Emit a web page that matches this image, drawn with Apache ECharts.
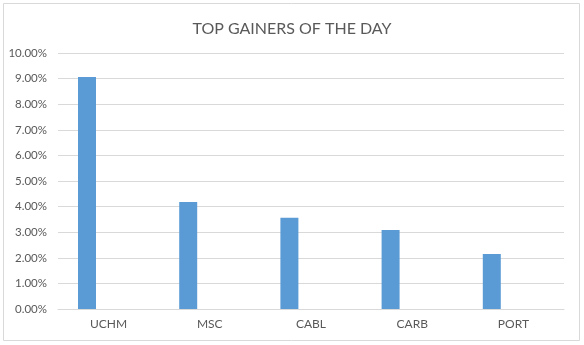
<!DOCTYPE html>
<html>
<head>
<meta charset="utf-8">
<script src="https://cdn.jsdelivr.net/npm/echarts@6/dist/echarts.min.js"></script>
<style>
html,body{margin:0;padding:0;background:#fff;}
#c{width:584px;height:345px;}
</style>
</head>
<body>
<div id="c"></div>
<script>
const titleText = 'TOP GAINERS OF THE DAY';
const categories = ['UCHM', 'MSC', 'CABL', 'CARB', 'PORT'];
const gainValues = [9.06, 4.18, 3.56, 3.09, 2.15];
const emptySeries = [null, null, null, null, null];
const yMin = 0, yMax = 10, yStep = 1;

const chart = echarts.init(document.getElementById('c'), null, {renderer: 'canvas'});
const fontFam = 'Lato, "Open Sans", sans-serif';
chart.setOption({
  backgroundColor: '#ffffff',
  animation: false,
  title: {
    text: titleText,
    left: 'center',
    top: 16,
    textStyle: {color: '#595959', fontSize: 16, fontWeight: 'normal', fontFamily: fontFam}
  },
  graphic: [{
    type: 'rect',
    shape: {x: 3.5, y: 3.5, width: 576, height: 337},
    style: {fill: 'none', stroke: '#D9D9D9', lineWidth: 1},
    silent: true
  }],
  grid: {left: 58, right: 20, top: 53, bottom: 36, containLabel: false},
  xAxis: {
    type: 'category',
    data: categories,
    axisLine: {lineStyle: {color: '#D9D9D9'}},
    axisTick: {show: false},
    axisLabel: {color: '#595959', fontSize: 12, fontFamily: fontFam, margin: 9}
  },
  yAxis: {
    type: 'value',
    min: yMin, max: yMax, interval: yStep,
    axisLine: {show: false},
    axisTick: {show: false},
    splitLine: {lineStyle: {color: '#D9D9D9'}},
    axisLabel: {color: '#595959', fontSize: 11.5, fontFamily: fontFam, margin: 11,
      formatter: v => v.toFixed(2) + '%'}
  },
  series: [
    {type: 'bar', data: gainValues, barWidth: 18, barGap: '140%', itemStyle: {color: '#5B9BD5'}},
    {type: 'bar', data: emptySeries, barWidth: 18, itemStyle: {color: '#ED7D31'}}
  ]
});
</script>
</body>
</html>
